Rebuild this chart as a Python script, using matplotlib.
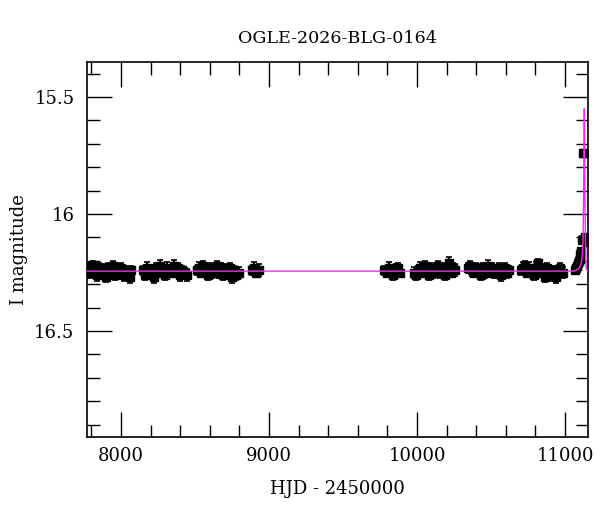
import matplotlib
matplotlib.use('Agg')
import matplotlib.pyplot as plt
from matplotlib.ticker import MultipleLocator, FuncFormatter

TITLE = 'OGLE-2026-BLG-0164'

# observing seasons (HJD - 2450000, I mag, error)
S1_T = [7778, 7793, 7808, 7823, 7838, 7853, 7868, 7883, 7898, 7913, 7928, 7943, 7958, 7973, 7988, 8003, 8018, 8033, 8048, 8063, 8070]
S1_M = [16.23, 16.25, 16.22, 16.24, 16.26, 16.23, 16.25, 16.24, 16.27, 16.23, 16.25, 16.22, 16.26, 16.24, 16.25, 16.23, 16.26, 16.24, 16.25, 16.27, 16.24]
S1_E = [0.02, 0.025, 0.02, 0.02, 0.025, 0.02, 0.02, 0.025, 0.02, 0.02, 0.025, 0.02, 0.02, 0.025, 0.02, 0.02, 0.025, 0.02, 0.02, 0.025, 0.02]

S2_T = [8145, 8160, 8175, 8190, 8205, 8220, 8235, 8250, 8265, 8280, 8295, 8310, 8325, 8340, 8355, 8370, 8385, 8400, 8415, 8430, 8443]
S2_M = [16.24, 16.26, 16.23, 16.25, 16.24, 16.27, 16.23, 16.25, 16.22, 16.24, 16.26, 16.23, 16.25, 16.24, 16.22, 16.25, 16.23, 16.26, 16.24, 16.25, 16.26]
S2_E = [0.02, 0.02, 0.025, 0.02, 0.02, 0.025, 0.02, 0.02, 0.025, 0.02, 0.02, 0.025, 0.02, 0.02, 0.025, 0.02, 0.02, 0.025, 0.02, 0.02, 0.025]

S3_T = [8510, 8525, 8540, 8555, 8570, 8585, 8600, 8615, 8630, 8645, 8660, 8675, 8690, 8705, 8720, 8735, 8750, 8765, 8780, 8794]
S3_M = [16.24, 16.23, 16.25, 16.22, 16.24, 16.26, 16.23, 16.25, 16.24, 16.22, 16.25, 16.23, 16.26, 16.24, 16.25, 16.23, 16.27, 16.24, 16.26, 16.25]
S3_E = [0.02, 0.025, 0.02, 0.02, 0.025, 0.02, 0.02, 0.025, 0.02, 0.02, 0.025, 0.02, 0.02, 0.025, 0.02, 0.02, 0.025, 0.02, 0.02, 0.025]

S4_T = [8885, 8900, 8915, 8930]
S4_M = [16.24, 16.23, 16.25, 16.24]
S4_E = [0.02, 0.025, 0.02, 0.025]

S5_T = [9780, 9795, 9810, 9825, 9840, 9855, 9870, 9883]
S5_M = [16.24, 16.25, 16.23, 16.24, 16.26, 16.24, 16.23, 16.25]
S5_E = [0.02, 0.02, 0.025, 0.02, 0.02, 0.025, 0.02, 0.02]

S6_T = [9976, 9991, 10006, 10021, 10036, 10051, 10066, 10081, 10096, 10111, 10126, 10141, 10156, 10171, 10186, 10201, 10216, 10231, 10246, 10255]
S6_M = [16.25, 16.26, 16.24, 16.23, 16.25, 16.22, 16.24, 16.26, 16.23, 16.25, 16.24, 16.22, 16.25, 16.23, 16.26, 16.24, 16.21, 16.25, 16.23, 16.24]
S6_E = [0.025, 0.02, 0.02, 0.025, 0.02, 0.02, 0.025, 0.02, 0.02, 0.025, 0.02, 0.02, 0.025, 0.02, 0.02, 0.025, 0.025, 0.02, 0.02, 0.025]

S7_T = [10341, 10356, 10371, 10386, 10401, 10416, 10431, 10446, 10461, 10476, 10491, 10506, 10521, 10536, 10551, 10566, 10581, 10596, 10611, 10620]
S7_M = [16.23, 16.22, 16.24, 16.25, 16.23, 16.24, 16.26, 16.23, 16.25, 16.22, 16.24, 16.23, 16.25, 16.24, 16.23, 16.26, 16.24, 16.23, 16.25, 16.24]
S7_E = [0.02, 0.02, 0.025, 0.02, 0.02, 0.025, 0.02, 0.02, 0.025, 0.025, 0.02, 0.02, 0.025, 0.02, 0.02, 0.025, 0.02, 0.02, 0.025, 0.02]

S8_T = [10699, 10714, 10729, 10744, 10759, 10774, 10789, 10804, 10819, 10834, 10849, 10864, 10879, 10894, 10909, 10924, 10939, 10954, 10969, 10983]
S8_M = [16.24, 16.23, 16.22, 16.25, 16.23, 16.24, 16.26, 16.23, 16.21, 16.25, 16.24, 16.27, 16.23, 16.26, 16.24, 16.25, 16.27, 16.24, 16.23, 16.25]
S8_E = [0.02, 0.025, 0.02, 0.02, 0.025, 0.02, 0.02, 0.025, 0.02, 0.02, 0.025, 0.02, 0.02, 0.025, 0.02, 0.025, 0.025, 0.02, 0.02, 0.025]

S9_T = [11068, 11074, 11080, 11086, 11092, 11098, 11104, 11110, 11116, 11122, 11130, 11136, 11142, 11147]
S9_M = [16.24, 16.23, 16.22, 16.21, 16.20, 16.19, 16.17, 16.16, 16.11, 15.74, 15.74, 16.10, 16.11, 16.12]
S9_E = [0.015, 0.015, 0.015, 0.015, 0.015, 0.015, 0.015, 0.015, 0.015, 0.01, 0.01, 0.015, 0.015, 0.015]

SEASONS = [(S1_T, S1_M, S1_E), (S2_T, S2_M, S2_E), (S3_T, S3_M, S3_E),
           (S4_T, S4_M, S4_E), (S5_T, S5_M, S5_E), (S6_T, S6_M, S6_E),
           (S7_T, S7_M, S7_E), (S8_T, S8_M, S8_E), (S9_T, S9_M, S9_E)]

# model curve
MODEL_T = [7770, 11060, 11090, 11105, 11115, 11121, 11125, 11128, 11130, 11132, 11135, 11138, 11142, 11148, 11155]
MODEL_M = [16.244, 16.244, 16.235, 16.22, 16.19, 16.12, 15.95, 15.7, 15.55, 15.7, 15.95, 16.14, 16.22, 16.24, 16.244]

plt.rcParams['font.family'] = ['DejaVu Serif']
plt.rcParams['font.size'] = 13

fig = plt.figure(figsize=(6.0, 5.12), dpi=100)
ax = fig.add_axes([87 / 600, 1 - 437 / 512, 501 / 600, 375 / 512])

for t, m, e in SEASONS:
    ax.errorbar(t, m, yerr=e, fmt='s', color='black', ms=6, elinewidth=1.5,
                capsize=2.5, capthick=1.2, zorder=2)

ax.plot(MODEL_T, MODEL_M, color='#ff22ff', lw=1.0, zorder=3)

ax.set_xlim(7770, 11155)
ax.set_ylim(16.953, 15.35)

ax.xaxis.set_major_locator(MultipleLocator(1000))
ax.xaxis.set_minor_locator(MultipleLocator(200))
ax.yaxis.set_major_locator(MultipleLocator(0.5))
ax.yaxis.set_minor_locator(MultipleLocator(0.1))
ax.yaxis.set_major_formatter(FuncFormatter(lambda v, p: '%g' % v))
ax.tick_params(which='both', direction='in', top=True, right=True, width=1)
ax.tick_params(which='major', length=18, pad=9, labelsize=13)
ax.tick_params(axis='x', which='major', pad=7)
ax.tick_params(which='minor', length=9)
for spine in ax.spines.values():
    spine.set_linewidth(1.2)

ax.set_xlabel('HJD - 2450000', fontsize=13, labelpad=11)
ax.set_ylabel('I magnitude', fontsize=13)
ax.yaxis.set_label_coords(-59 / 501, 0.5)
ax.set_title(TITLE, fontsize=12.6, pad=14)

fig.savefig('out.png', dpi=100)
